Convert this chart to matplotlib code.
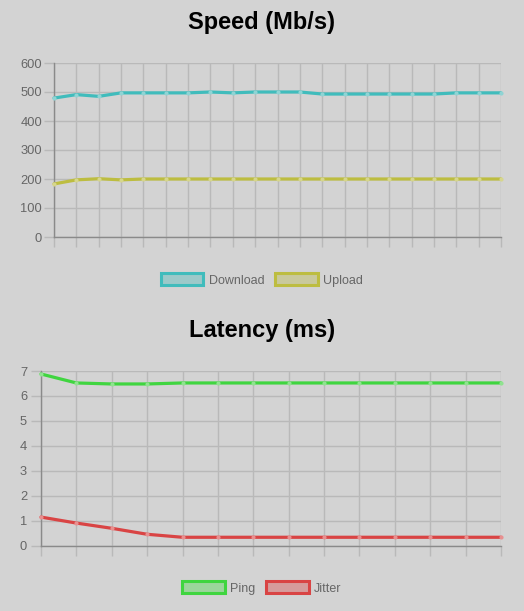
import matplotlib
matplotlib.use("Agg")
import matplotlib.pyplot as plt
from matplotlib.patches import Patch
import numpy as np

# ---- data ----
download = [479, 491, 485, 497, 497, 497, 497, 500, 497, 500, 500, 500,
            493, 493, 493, 493, 493, 493, 497, 497, 497]
upload = [183, 197, 201, 197, 200, 200, 200, 200, 200, 200, 200, 200,
          200, 200, 200, 200, 200, 200, 200, 200, 200]
ping = [6.88, 6.52, 6.48, 6.48, 6.52, 6.52, 6.52, 6.52, 6.52, 6.52, 6.52,
        6.52, 6.52, 6.52]
jitter = [1.14, 0.90, 0.69, 0.45, 0.33, 0.33, 0.33, 0.33, 0.33, 0.33, 0.33,
          0.33, 0.33, 0.33]
speed_ticks = [0, 100, 200, 300, 400, 500, 600]
latency_ticks = [0, 1, 2, 3, 4, 5, 6, 7]

BG = "#d3d3d3"
GRID = "#b9b9b9"
AXIS = "#8a8a8a"
TXT = "#666666"
FONT = ["Liberation Sans", "DejaVu Sans"]

plt.rcParams["font.family"] = FONT

fig = plt.figure(figsize=(5.24, 6.11), dpi=100, facecolor=BG)


def style_axes(ax, n, ticks, tlen_x, tlen_y):
    ax.set_facecolor(BG)
    ax.set_xlim(0, n - 1)
    ax.set_ylim(ticks[0], ticks[-1])
    ax.set_xticks(range(n))
    ax.set_xticklabels([""] * n)
    ax.set_yticks(ticks)
    ax.set_yticklabels([str(t) for t in ticks], color=TXT, fontsize=9.3)
    ax.grid(True, color=GRID, linewidth=1.0)
    ax.set_axisbelow(True)
    for s in ["top", "right"]:
        ax.spines[s].set_visible(False)
    ax.spines["left"].set_color(AXIS)
    ax.spines["bottom"].set_color(AXIS)
    ax.spines["left"].set_linewidth(1.0)
    ax.spines["bottom"].set_linewidth(1.0)
    ax.tick_params(axis="x", length=tlen_x, color=GRID, width=1.0)
    ax.tick_params(axis="y", length=tlen_y, color=GRID, width=1.0, pad=1.5)


def plot_series(ax, vals, color, light):
    ax.plot(range(len(vals)), vals, color=color, linewidth=2.3,
            marker="o", markersize=3, markerfacecolor=light,
            markeredgecolor=light, markeredgewidth=0, solid_capstyle="round",
            clip_on=False, zorder=3)


def add_legend(ax, labels, colors, fills, y):
    handles = [Patch(facecolor=f, edgecolor=c, linewidth=2.2, label=l)
               for l, c, f in zip(labels, colors, fills)]
    fig.legend(handles=handles, loc="center", bbox_to_anchor=(0.5, y),
               ncol=2, frameon=False, fontsize=9, labelcolor=TXT,
               handlelength=3.4, handleheight=1.1, handletextpad=0.45,
               columnspacing=0.85)


# ---- Speed ----
ax1 = fig.add_axes([54 / 524, 1 - 237 / 611, 447 / 524, 174 / 611])
style_axes(ax1, len(download), speed_ticks, 7.2, 7.0)
plot_series(ax1, download, "#40bcbc", "#8fd4d4")
plot_series(ax1, upload, "#bdbd40", "#d6d68c")
fig.text(0.5, 1 - 23 / 611, "Speed (Mb/s)", ha="center", va="center",
         fontsize=17, fontweight="bold", color="black")
add_legend(ax1, ["Download", "Upload"], ["#40bcbc", "#bdbd40"],
           ["#9cc9c9", "#c9c99c"], 1 - 280 / 611)

# ---- Latency ----
ax2 = fig.add_axes([41 / 524, 1 - 545.5 / 611, 460 / 524, 174.5 / 611])
style_axes(ax2, len(ping), latency_ticks, 7.2, 7.0)
ax2.tick_params(axis="y", pad=3)
plot_series(ax2, ping, "#40d540", "#8fe38f")
plot_series(ax2, jitter, "#d94444", "#e88f8f")
fig.text(0.5, 1 - 331 / 611, "Latency (ms)", ha="center", va="center",
         fontsize=17, fontweight="bold", color="black")
add_legend(ax2, ["Ping", "Jitter"], ["#40d540", "#d94444"],
           ["#9cd69c", "#d69c9c"], 1 - 588 / 611)

fig.savefig("out.png", dpi=100, facecolor=BG)
